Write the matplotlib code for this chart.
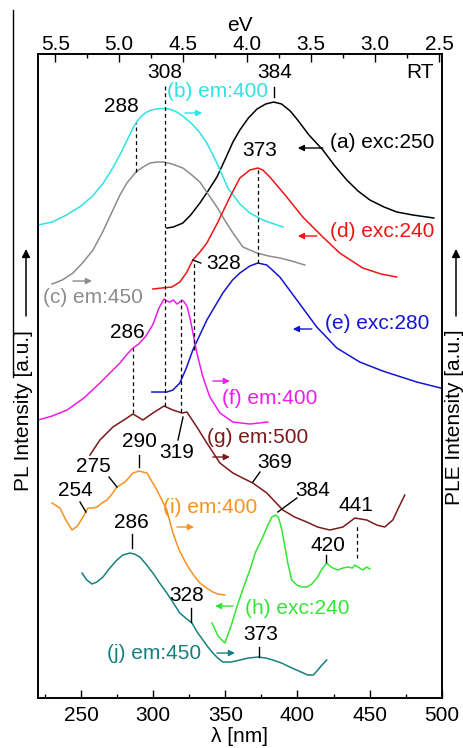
import matplotlib
matplotlib.use('Agg')
import matplotlib.pyplot as plt
from matplotlib.lines import Line2D
from matplotlib.ticker import MultipleLocator, FormatStrFormatter

plt.rcParams['font.family'] = ['Liberation Sans', 'DejaVu Sans']
plt.rcParams['font.size'] = 15

# wavelength (nm) and intensity (a.u., offset stacked)
# (a) PL exc:250
lam_a = [309.6, 314, 320.6, 326, 332.4, 338, 344.2, 350, 355.3, 360.1, 366, 372, 378, 383.6, 389, 395,
         399.6, 408, 417.6, 426, 434.2, 442, 450.2, 460, 468.9, 480, 494.5]
int_a = [470, 471, 475, 483, 495, 507, 521, 539, 556, 568, 580, 589, 594, 596, 594, 587,
         579, 563, 548, 532, 518, 507, 498, 491, 486, 483, 480]
# (b) PLE em:400
lam_b = [220.2, 230, 240, 250, 258, 265, 272, 278, 283, 286, 289, 292, 295, 298, 301, 304.5, 308,
         311, 314, 317, 320, 323, 327, 332, 337.2, 344.2, 351.8, 360.1, 367, 376, 389.9]
int_b = [473, 476, 483, 492, 502, 514, 530, 546, 561, 570, 577, 582, 585.5, 587.5, 588.7, 589.3, 589.5,
         589, 587.5, 585.5, 582.5, 579, 574, 566, 555, 535, 510, 494, 485, 478, 471]
# (c) PLE em:450
lam_c = [229.9, 237, 244.4, 251, 258.3, 265, 272.1, 277, 281.8, 288.1, 293, 297.8, 303, 307.5, 313, 320.6,
         326, 332.4, 338, 344.2, 350, 355.3, 362.2, 371.9, 380, 387.8, 396, 405.1]
int_c = [414, 418, 425, 435, 448, 466, 488, 503, 515, 526, 531, 535, 536, 536, 534, 530,
         524, 516, 504, 491, 477, 465, 451, 445, 442, 440, 437, 433]
# (d) PL exc:240
lam_d = [299.8, 306, 313, 318.5, 323.4, 327.5, 332.4, 337.2, 344.9, 353.2, 360.1, 367, 372.6, 376,
         380.9, 392.6, 403.7, 417.6, 429.3, 445.3, 458, 468.8]
int_d = [409, 410, 411, 416, 426, 438, 446, 455, 476, 501, 520, 528, 530, 528,
         521, 501, 481, 461, 445, 430, 424, 421]
# (e) PL exc:280
lam_e = [299.1, 309.5, 313.7, 318.5, 323, 327.5, 337.2, 348.3, 355, 360.1, 367, 372.6, 378.8, 387.8,
         399.6, 413.4, 427.3, 443.2, 459.1, 482.7, 499.3]
int_e = [306, 306, 308, 315, 330, 348, 378, 405, 418, 425, 432, 435, 433, 421,
         398, 371, 350, 336, 327, 316, 310]
# (f) PLE em:400
lam_f = [220.2, 230, 240.3, 252, 263.1, 270, 277, 282, 286, 290, 295, 300, 304, 307.5, 309.5, 311.6,
         314, 316.5, 318.5, 320, 321.5, 323.4, 325.5, 328, 330.3, 334.5, 339.3, 346.3, 355.3, 367, 379.5]
int_f = [278, 282, 288, 300, 315, 325, 335, 344, 350, 354, 362, 374, 390, 399, 397, 396,
         398, 394, 396, 398, 396, 392, 380, 362, 345, 321, 301, 285, 276, 274, 276]
# (g) PLE em:500
lam_g = [256.2, 263.1, 272.1, 281.8, 286, 289.5, 292.9, 299.8, 307.5, 313.7, 320, 323.4, 330.3, 337.2,
         346.3, 355.3, 362, 369.1, 378.8, 389.9, 398, 406.5, 414, 422.4, 431.5, 439.8, 448.1, 455,
         460.5, 466.1, 470, 474.4]
int_g = [243, 258, 271, 280, 284, 281, 278, 285, 292, 288, 285, 286, 271, 255,
         235, 225, 220, 215, 205, 188, 181, 176, 171, 168, 171, 180, 178, 173,
         171, 178, 190, 203]
# (i) PLE em:400
lam_i = [229.9, 235.4, 239.5, 243.8, 247.5, 251.4, 254.8, 258, 261.1, 264.5, 268, 271.5, 274.9, 280.5,
         286, 290.2, 295.7, 302.6, 309.5, 313.7, 318, 323.4, 328, 332.4, 337, 341.4, 345, 349.7]
int_i = [195, 190, 178, 168, 172, 181, 190, 190, 191, 195, 198, 204, 211, 216,
         225, 227, 225, 208, 188, 165, 148, 133, 123, 115, 110, 106, 104, 103]
# (h) PL exc:240
lam_h = [340.8, 345, 349.7, 354, 358, 362, 367, 371, 376, 379.5, 382.3, 385, 387, 389.2, 391.5, 393.3,
         396, 399.6, 403, 406.5, 410, 414, 417, 420.3, 422.5, 424.6, 428, 431.5, 435, 438, 439.8,
         442, 445.3, 448, 450.2]
int_h = [75, 62, 55, 72, 91, 108, 128, 146, 161, 173, 181, 183, 180, 168, 150, 135,
         118, 113, 111, 111, 114, 121, 129, 135, 132, 130, 128, 130, 131, 130, 133,
         131, 128, 131, 129]
# (j) PLE em:450
lam_j = [250.7, 254, 257.6, 261, 265.2, 270, 274.9, 279, 283.9, 287, 290.8, 295, 299.8, 304.5, 309.5,
         314, 318.5, 322.5, 326.9, 330.5, 334.5, 338, 341.4, 344.8, 348.3, 354, 360.1, 366, 372.6,
         378, 383, 389, 394.7, 401, 407.2, 411, 414.1, 417, 420.3]
int_j = [125, 118, 114, 116, 121, 130, 138, 143, 145, 144, 141, 134, 125, 115, 105,
         95, 85, 80, 75, 66, 58, 51, 45, 40, 36, 36, 38, 40, 41,
         40, 38, 35, 31, 27, 23, 23, 28, 33, 38]

c_a, c_b, c_c, c_d, c_e = 'black', '#2ee3e3', '#8c8c8c', '#f01414', '#1414d2'
c_f, c_g, c_i, c_h, c_j = '#ec1cec', '#7a1a1a', '#f7921e', '#34e634', '#168080'

fig = plt.figure(figsize=(4.64, 7.48), dpi=100)
ax = fig.add_axes([0.0813, 0.0668, 0.8707, 0.861])

curves = [(lam_a, int_a, c_a), (lam_b, int_b, c_b), (lam_c, int_c, c_c), (lam_d, int_d, c_d),
          (lam_e, int_e, c_e), (lam_f, int_f, c_f), (lam_g, int_g, c_g), (lam_i, int_i, c_i),
          (lam_h, int_h, c_h), (lam_j, int_j, c_j)]
for lam, inten, col in curves:
    ax.plot(lam, inten, color=col, lw=1.1)

# dashed guide lines (x, y0, y1)
for x, y0, y1 in [(308, 292, 612), (288, 526, 575), (373, 435, 530), (328, 348, 435),
                  (319, 286, 398), (286, 285, 350), (441, 140, 173)]:
    ax.plot([x, x], [y0, y1], color='k', lw=0.9, ls=(0, (3, 2.5)))

# short solid marks
for xs, ys in [([384, 384], [601, 611]), ([320.7, 317.2], [281, 258]), ([290.2, 290.2], [231, 243]),
               ([269.4, 274.9], [221, 211]), ([249.3, 253.4], [196, 186]), ([285.3, 285.3], [150, 164]),
               ([369.1, 374], [216, 226]), ([386.4, 399.6], [186, 200]), ([420, 420], [136, 143]),
               ([326.2, 326.2], [76, 90]), ([373.3, 373.3], [41, 51]), ([327.5, 333], [438, 435])]:
    ax.plot(xs, ys, color='k', lw=1.0)

# peak labels
for s, x, y in [('308', 308, 626), ('384', 384, 626), ('288', 277.7, 592), ('373', 374, 548),
                ('286', 281.8, 366), ('319', 316.5, 246), ('290', 290.2, 257), ('275', 258.3, 232),
                ('254', 245.8, 208), ('286', 284.6, 176), ('369', 384.3, 236), ('384', 410.7, 208),
                ('441', 440.4, 193), ('420', 421, 153), ('328', 323.4, 103), ('373', 374.7, 64)]:
    ax.text(x, y, s, ha='center', va='center')
ax.text(336.5, 435, '328', ha='left', va='center')
ax.text(484.8, 626, 'RT', ha='center', va='center')

# curve labels with small arrows (text x, text y, label, colour, arrow x0, arrow x1, arrow y)
for tx, ty, s, col, x0, x1, ay in [
        (422.5, 556, '(a) exc:250', c_a, 417.6, 400.3, 550),
        (309.6, 607, '(b) em:400', c_b, 322, 334, 585),
        (223.7, 401, '(c) em:450', c_c, 244.4, 257.6, 417),
        (422.5, 467, '(d) exc:240', c_d, 413.4, 400.3, 462),
        (419, 375, '(e) exc:280', c_e, 410, 396.8, 369),
        (347.7, 300, '(f) em:400', c_f, 341.4, 353.2, 317),
        (337.3, 261, '(g) em:500', c_g, 341.4, 353.2, 241),
        (306.8, 191, '(i) em:400', c_i, 316.5, 328.3, 171),
        (363.6, 90, '(h) exc:240', c_h, 355.3, 342.9, 92),
        (268, 45, '(j) em:450', c_j, 344.2, 356.7, 45)]:
    ax.text(tx, ty, s, color=col, ha='left', va='center')
    ax.annotate('', xy=(x1, ay), xytext=(x0, ay),
                arrowprops=dict(arrowstyle='-|>', color=col, lw=1.0, mutation_scale=9,
                                shrinkA=0, shrinkB=0))

ax.set_xlim(220, 500)
ax.set_ylim(0, 644)
ax.set_yticks([])
ax.xaxis.set_major_locator(MultipleLocator(50))
ax.xaxis.set_minor_locator(MultipleLocator(25))
ax.tick_params(axis='x', which='major', direction='in', length=6, width=1, pad=6)
ax.tick_params(axis='x', which='minor', direction='in', length=3, width=1)
ax.set_xlabel('λ [nm]', labelpad=1)

ax2 = ax.twiny()
ax2.set_xlim(1240 / 220, 1240 / 500)
ax2.xaxis.set_major_locator(MultipleLocator(0.5))
ax2.xaxis.set_minor_locator(MultipleLocator(0.25))
ax2.xaxis.set_major_formatter(FormatStrFormatter('%.1f'))
ax2.tick_params(axis='x', which='major', direction='in', length=6, width=1, pad=0)
ax2.tick_params(axis='x', which='minor', direction='in', length=3, width=1)
ax2.set_xlabel('eV', labelpad=3)
for a in (ax, ax2):
    for sp in a.spines.values():
        sp.set_linewidth(1.2)

# side labels with arrows
fig.text(24 / 464, 1 - 411 / 748, 'PL Intensity [a.u.]', rotation=90, ha='center', va='center')
fig.text(455 / 464, 1 - 417 / 748, 'PLE Intensity [a.u.]', rotation=90, ha='center', va='center')
for px in (26, 456):
    ax.annotate('', xy=(px / 464, 1 - 249 / 748), xytext=(px / 464, 1 - 316 / 748),
                xycoords='figure fraction', textcoords='figure fraction',
                arrowprops=dict(arrowstyle='-|>', color='k', lw=1.1, mutation_scale=12,
                                shrinkA=0, shrinkB=0))
fig.add_artist(Line2D([13 / 464, 13 / 464], [1 - 10 / 748, 1 - 377 / 748], color='k', lw=1.0))

fig.savefig('out.png', dpi=100)
